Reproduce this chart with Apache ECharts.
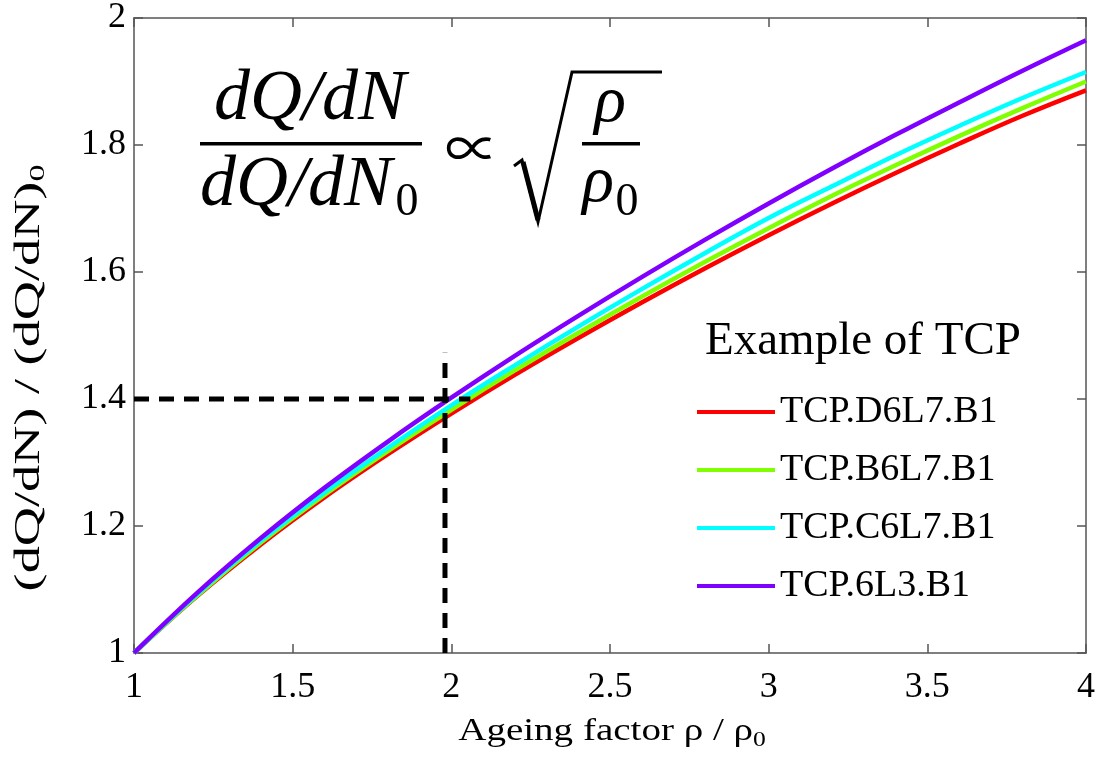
<!DOCTYPE html>
<html>
<head>
<meta charset="utf-8">
<script src="https://cdn.jsdelivr.net/npm/echarts@6/dist/echarts.min.js"></script>
<style>
  html, body { margin: 0; padding: 0; background: #fff; }
  #main { width: 1098px; height: 758px; }
</style>
</head>
<body>
<div id="main"></div>
<script>
// ageing factor rho / rho0
const ageing = [1, 1.2, 1.4, 1.6, 1.8, 2.0, 2.2, 2.4, 2.6, 2.8, 3.0, 3.2, 3.4, 3.6, 3.8, 4.0]
// (dQ/dN) / (dQ/dN)0 for each TCP
const tcpD6L7 = [1, 1.090, 1.171, 1.245, 1.313, 1.377, 1.438, 1.496, 1.552, 1.606, 1.658, 1.708, 1.756, 1.802, 1.846, 1.886]
const tcpB6L7 = [1, 1.091, 1.174, 1.249, 1.318, 1.383, 1.445, 1.504, 1.561, 1.616, 1.669, 1.720, 1.768, 1.814, 1.858, 1.900]
const tcpC6L7 = [1, 1.093, 1.177, 1.253, 1.323, 1.390, 1.453, 1.514, 1.573, 1.630, 1.685, 1.735, 1.784, 1.830, 1.874, 1.915]
const tcp6L3 = [1, 1.095, 1.181, 1.260, 1.333, 1.402, 1.468, 1.531, 1.592, 1.651, 1.708, 1.763, 1.816, 1.867, 1.917, 1.965]
// dashed guide at rho/rho0 ~ 2
const guideH = [[1, 1.4], [2.06, 1.4]]
const guideV = [[1.98, 1], [1.98, 1.473]]

const names = ['TCP.D6L7.B1', 'TCP.B6L7.B1', 'TCP.C6L7.B1', 'TCP.6L3.B1']
const colors = ['#ff0000', '#80ff00', '#00ffff', '#8000ff']
const values = [tcpD6L7, tcpB6L7, tcpC6L7, tcp6L3]

const serif = 'Liberation Serif'
const chart = echarts.init(document.getElementById('main'))

const zip = arr => ageing.map((x, i) => [x, arr[i]])

let series = values.map((v, i) => ({
  name: names[i],
  type: 'line',
  data: zip(v),
  smooth: 0.4,
  symbol: 'none',
  lineStyle: { width: 4.5, color: colors[i] },
  itemStyle: { color: colors[i] },
  z: 3 + i
}))
// 虚线 (drawn over the curves)
;[guideH, guideV].forEach(g => {
  series.push({
    type: 'line',
    data: g,
    symbol: 'none',
    silent: true,
    lineStyle: { width: 5, color: '#000', type: [15, 10], cap: 'butt' },
    z: 10
  })
})

const axisCommon = {
  axisLine: { lineStyle: { color: '#555', width: 1.5 } },
  axisTick: { inside: true, length: 9, lineStyle: { color: '#555', width: 1.5 } },
  splitLine: { show: false }
}

const option = {
  animation: false,
  grid: { left: 134, right: 10, top: 17, bottom: 105 },
  legend: {
    data: names,
    orient: 'vertical',
    left: 692,
    top: 388,
    icon: 'rect',
    itemWidth: 78,
    itemHeight: 4,
    itemGap: 20,
    textStyle: { fontFamily: serif, fontSize: 38, color: '#000', lineHeight: 38 }
  },
  xAxis: [
    {
      type: 'value', min: 1, max: 4, interval: 0.5, position: 'bottom',
      axisLabel: { fontFamily: serif, fontSize: 36, color: '#000', margin: 17 },
      ...axisCommon
    },
    {
      type: 'value', min: 1, max: 4, interval: 0.5, position: 'top',
      axisLabel: { show: false },
      ...axisCommon
    }
  ],
  yAxis: [
    {
      type: 'value', min: 1, max: 2, interval: 0.2, position: 'left',
      axisLabel: { fontFamily: serif, fontSize: 36, color: '#000', margin: 8 },
      ...axisCommon
    },
    {
      type: 'value', min: 1, max: 2, interval: 0.2, position: 'right',
      axisLabel: { show: false },
      ...axisCommon
    }
  ],
  graphic: [
    // x axis title (stretched like the original)
    {
      type: 'text', x: 612, y: 732, scaleX: 1.22,
      style: {
        text: 'Ageing factor ρ / ρ{s|0}',
        font: '32px "Liberation Serif"', fill: '#000',
        align: 'center', verticalAlign: 'middle',
        rich: { s: { font: '21px "Liberation Serif"', fill: '#000', padding: [16, 0, 0, 0] } }
      }
    },
    // y axis title
    {
      type: 'text', x: 30, y: 378, rotation: Math.PI / 2, scaleX: 1.55,
      style: {
        text: '(dQ/dN) / (dQ/dN){s|0}',
        font: '35px "Liberation Serif"', fill: '#000',
        align: 'center', verticalAlign: 'middle',
        rich: { s: { font: '22px "Liberation Serif"', fill: '#000', padding: [17, 0, 0, 0] } }
      }
    },
    // legend title
    {
      type: 'text', left: 705, top: 318,
      style: { text: 'Example of TCP', font: '47px "Liberation Serif"', fill: '#000' }
    },
    // formula dQ/dN / dQ/dN0 ∝ sqrt(rho/rho0)
    {
      type: 'text', x: 310, y: 100,
      style: { text: 'dQ/dN', font: 'italic 72px "Liberation Serif"', fill: '#000', align: 'center', verticalAlign: 'middle' }
    },
    { type: 'rect', shape: { x: 200, y: 142, width: 222, height: 3.5 }, style: { fill: '#000' } },
    {
      type: 'text', x: 296, y: 186,
      style: { text: 'dQ/dN', font: 'italic 72px "Liberation Serif"', fill: '#000', align: 'center', verticalAlign: 'middle' }
    },
    {
      type: 'text', x: 407, y: 203,
      style: { text: '0', font: '46px "Liberation Serif"', fill: '#000', align: 'center', verticalAlign: 'middle' }
    },
    {
      type: 'text', x: 472, y: 148,
      style: { text: '∝', font: '54px "Noto Sans CJK JP"', fill: '#000', align: 'center', verticalAlign: 'middle' }
    },
    {
      type: 'polyline',
      shape: { points: [[514, 166], [522, 160], [538, 222], [572, 72], [662, 72]] },
      style: { stroke: '#000', lineWidth: 3, fill: null }
    },
    { type: 'polyline', shape: { points: [[523, 162], [538, 220]] }, style: { stroke: '#000', lineWidth: 5, fill: null } },
    {
      type: 'text', x: 610, y: 104,
      style: { text: 'ρ', font: 'italic 66px "Liberation Serif"', fill: '#000', align: 'center', verticalAlign: 'middle' }
    },
    { type: 'rect', shape: { x: 582, y: 142, width: 58, height: 3.5 }, style: { fill: '#000' } },
    {
      type: 'text', x: 598, y: 184,
      style: { text: 'ρ', font: 'italic 66px "Liberation Serif"', fill: '#000', align: 'center', verticalAlign: 'middle' }
    },
    {
      type: 'text', x: 627, y: 203,
      style: { text: '0', font: '46px "Liberation Serif"', fill: '#000', align: 'center', verticalAlign: 'middle' }
    }
  ],
  series
}

chart.setOption(option)
</script>
</body>
</html>
